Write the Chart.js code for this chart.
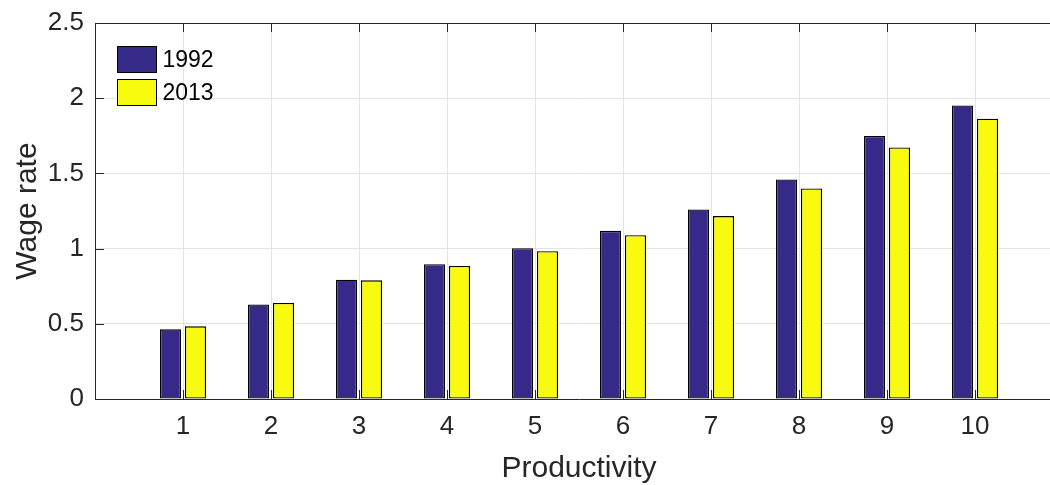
<!DOCTYPE html>
<html>
<head>
<meta charset="utf-8">
<script src="https://cdn.jsdelivr.net/npm/chart.js@4"></script>
<style>
  html, body { margin: 0; padding: 0; background: #fff; overflow: hidden; }
  #wrap { width: 1070px; height: 485px; }
</style>
</head>
<body>
<div id="wrap"><canvas id="chart"></canvas></div>
<script>
'use strict';

let categories = [1, 2, 3, 4, 5, 6, 7, 8, 9, 10];
let wages1992 = [0.463, 0.629, 0.793, 0.896, 1.003, 1.118, 1.26, 1.46, 1.749, 1.951];
let wages2013 = [0.483, 0.638, 0.789, 0.885, 0.983, 1.089, 1.216, 1.40, 1.673, 1.863];
let seriesNames = ['1992', '2013'];
let yTickLabels = ['0', '0.5', '1', '1.5', '2', '2.5'];
let xTickLabels = ['1', '2', '3', '4', '5', '6', '7', '8', '9', '10'];

let axisColor = '#262626';
let gridColor = '#e3e3e3';
let fontFamily = '"Liberation Sans", Arial, Helvetica, sans-serif';

function toPoints(values) {
  return categories.map((c, i) => ({ x: c, y: values[i] }));
}

// MATLAB style box: top edge plus inward tick marks
let boxPlugin = {
  id: 'box',
  afterDatasetsDraw(chart) {
    let ctx = chart.ctx;
    let area = chart.chartArea;
    let xs = chart.scales.x;
    let ys = chart.scales.y;
    let len = 9;
    ctx.save();
    ctx.strokeStyle = axisColor;
    ctx.lineWidth = 1;
    ctx.beginPath();
    ctx.moveTo(area.left, Math.round(area.top) + 0.5);
    ctx.lineTo(area.right, Math.round(area.top) + 0.5);
    categories.forEach(c => {
      let px = Math.round(xs.getPixelForValue(c)) + 0.5;
      ctx.moveTo(px, area.bottom);
      ctx.lineTo(px, area.bottom - len);
      ctx.moveTo(px, area.top);
      ctx.lineTo(px, area.top + len);
    });
    yTickLabels.forEach(t => {
      let py = Math.round(ys.getPixelForValue(parseFloat(t))) + 0.5;
      ctx.moveTo(area.left, py);
      ctx.lineTo(area.left + len, py);
    });
    ctx.stroke();
    ctx.restore();
  }
};

let legendPlugin = {
  id: 'boxLegend',
  afterDraw(chart) {
    let ctx = chart.ctx;
    let area = chart.chartArea;
    ctx.save();
    ctx.font = '23px ' + fontFamily;
    ctx.textBaseline = 'middle';
    chart.data.datasets.forEach((ds, i) => {
      let x = Math.round(area.left) + 22.5;
      let y = Math.round(area.top) + 23.5 + i * 33;
      ctx.fillStyle = ds.backgroundColor;
      ctx.fillRect(x, y, 39, 26);
      ctx.strokeStyle = '#000';
      ctx.lineWidth = 1;
      ctx.strokeRect(x, y, 39, 26);
      ctx.fillStyle = '#000';
      ctx.fillText(ds.label, x + 45, y + 14);
    });
    ctx.restore();
  }
};

let data = {
  datasets: [{
    label: seriesNames[0],
    data: toPoints(wages1992),
    backgroundColor: '#352a87',
    borderColor: '#000',
    borderWidth: 1.3,
    borderSkipped: false
  }, {
    label: seriesNames[1],
    data: toPoints(wages2013),
    backgroundColor: '#f9fb0e',
    borderColor: '#000',
    borderWidth: 1.3,
    borderSkipped: false
  }]
};

let config = {
  type: 'bar',
  data: data,
  options: {
    responsive: true,
    maintainAspectRatio: false,
    animation: false,
    categoryPercentage: 0.568,
    barPercentage: 0.84,
    layout: { padding: { top: 23, right: 7, left: 0, bottom: 0 } },
    plugins: {
      legend: { display: false },
      tooltip: { enabled: false }
    },
    scales: {
      x: {
        type: 'linear',
        offset: false,
        min: 0,
        max: 11,
        afterFit: scale => {
          scale.height = 86;
          scale.paddingLeft = 0;
          scale.paddingRight = 0;
        },
        afterBuildTicks: scale => {
          scale.ticks = [0].concat(categories, [11]).map(v => ({ value: v }));
        },
        ticks: {
          autoSkip: false,
          maxRotation: 0,
          padding: 12,
          color: axisColor,
          font: { family: fontFamily, size: 26 },
          callback: value => {
            let i = categories.indexOf(value);
            return i >= 0 ? xTickLabels[i] : '';
          }
        },
        grid: {
          offset: false,
          drawTicks: false,
          color: c => (c.tick && c.tick.value >= 1 && c.tick.value <= 10) ? gridColor : 'rgba(0,0,0,0)'
        },
        border: { color: axisColor, width: 1 },
        title: {
          display: true,
          text: 'Productivity',
          color: axisColor,
          font: { family: fontFamily, size: 30 },
          padding: { top: 0, bottom: -2 }
        }
      },
      y: {
        min: 0,
        max: 2.5,
        afterFit: scale => {
          scale.width = 95;
          scale.paddingTop = 0;
          scale.paddingBottom = 0;
        },
        afterBuildTicks: scale => {
          scale.ticks = yTickLabels.map(t => ({ value: parseFloat(t) }));
        },
        ticks: {
          padding: 11,
          color: axisColor,
          font: { family: fontFamily, size: 26 },
          callback: (value, i) => yTickLabels[i]
        },
        grid: {
          drawTicks: false,
          color: gridColor
        },
        border: { color: axisColor, width: 1 },
        title: {
          display: true,
          text: 'Wage rate',
          color: axisColor,
          font: { family: fontFamily, size: 30 },
          padding: { top: 10, bottom: 0 }
        }
      }
    }
  },
  plugins: [boxPlugin, legendPlugin]
};

let canvasElem = document.getElementById('chart');
new Chart(canvasElem, config);
</script>
</body>
</html>
